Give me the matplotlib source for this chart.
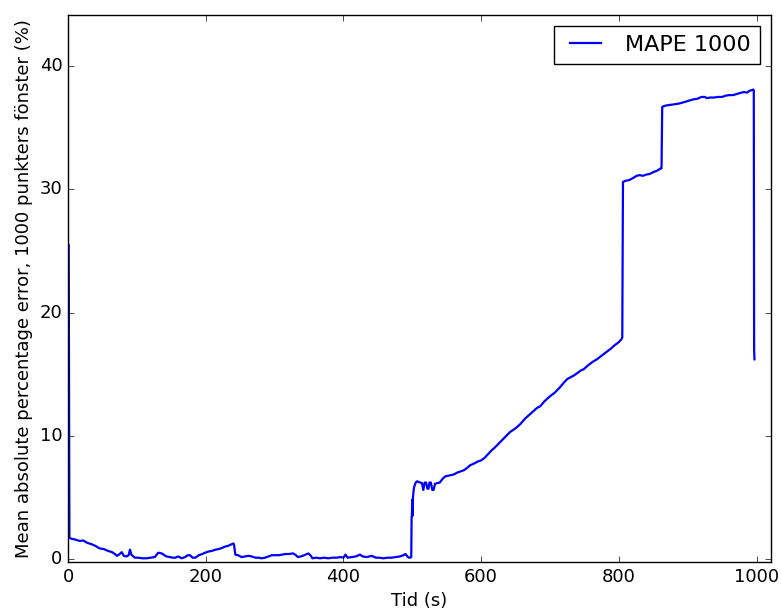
import matplotlib
matplotlib.use("Agg")
import matplotlib.pyplot as plt

plt.style.use("classic")
plt.rcParams["font.size"] = 13

# Rolling MAPE over a 1000-point window, sampled along time (s)
tid = [
    1, 2, 4, 8, 12, 17, 22, 28, 34, 40,
    46, 52, 58, 64, 68, 71, 74, 78, 81, 85,
    88, 90, 92, 95, 97, 102, 108, 114, 120, 126,
    131, 136, 140, 143, 148, 152, 156, 160, 165, 170,
    174, 177, 181, 185, 190, 195, 199, 204, 209, 214,
    219, 224, 228, 232, 236, 240, 241, 243, 247, 252,
    257, 262, 267, 272, 277, 281, 286, 291, 296, 301,
    306, 311, 316, 321, 327, 331, 334, 338, 343, 349,
    352, 355, 360, 366, 372, 378, 384, 390, 396, 400,
    403, 406, 412, 418, 424, 428, 434, 441, 447, 452,
    458, 464, 470, 476, 482, 487, 490, 493, 495, 497,
    498.5, 499, 499.5, 500, 500.5, 501, 502, 503, 505, 507,
    509, 511.5, 514, 516, 518, 520, 522, 523.5, 525, 527,
    529, 531, 533, 536, 540, 544, 548, 552, 556, 560,
    565, 570, 575, 580, 584, 590, 595, 600, 605, 610,
    615, 620, 628, 635, 642, 650, 657, 664, 670, 676,
    681, 686, 692, 700, 707, 714, 720, 725, 730, 735,
    740, 745, 749, 755, 762, 768, 775, 782, 788, 794,
    800, 804, 805, 806, 810, 815, 820, 826, 830, 835,
    840, 845, 850, 855, 858, 861, 862, 863, 868, 874,
    880, 886, 890, 896, 902, 908, 914, 920, 925, 928,
    932, 938, 944, 950, 955, 960, 966, 972, 978, 982,
    986, 990, 993, 995, 996, 996.5, 997,
]
mape_1000 = [
    25.5, 1.75, 1.65, 1.6, 1.55, 1.45, 1.5, 1.3, 1.2, 1.05,
    0.85, 0.8, 0.65, 0.55, 0.4, 0.25, 0.35, 0.55, 0.25, 0.2,
    0.3, 0.75, 0.35, 0.2, 0.1, 0.1, 0.05, 0.05, 0.1, 0.15,
    0.5, 0.45, 0.3, 0.2, 0.15, 0.1, 0.1, 0.2, 0.05, 0.15,
    0.3, 0.3, 0.1, 0.1, 0.3, 0.4, 0.5, 0.6, 0.65, 0.75,
    0.8, 0.9, 1.0, 1.05, 1.15, 1.25, 1.2, 0.35, 0.3, 0.15,
    0.2, 0.25, 0.2, 0.1, 0.1, 0.05, 0.1, 0.2, 0.3, 0.3,
    0.3, 0.35, 0.4, 0.4, 0.45, 0.3, 0.15, 0.2, 0.3, 0.45,
    0.3, 0.05, 0.1, 0.05, 0.1, 0.05, 0.1, 0.1, 0.15, 0.1,
    0.35, 0.1, 0.15, 0.2, 0.35, 0.2, 0.15, 0.25, 0.1, 0.1,
    0.05, 0.1, 0.1, 0.15, 0.2, 0.3, 0.4, 0.2, 0.1, 0.1,
    0.15, 3.3, 3.6, 4.8, 3.5, 5.0, 5.6, 5.9, 6.2, 6.3,
    6.25, 6.2, 6.15, 5.6, 6.2, 6.2, 5.7, 5.7, 6.2, 6.2,
    5.6, 5.6, 6.1, 6.15, 6.2, 6.5, 6.7, 6.75, 6.8, 6.85,
    7.0, 7.1, 7.2, 7.4, 7.6, 7.75, 7.9, 8.0, 8.2, 8.5,
    8.8, 9.05, 9.5, 9.9, 10.3, 10.6, 10.95, 11.4, 11.7, 12.0,
    12.25, 12.4, 12.8, 13.2, 13.5, 13.9, 14.3, 14.6, 14.75, 14.9,
    15.1, 15.3, 15.4, 15.7, 16.0, 16.2, 16.5, 16.8, 17.05, 17.35,
    17.6, 17.85, 18.0, 30.6, 30.7, 30.75, 30.9, 31.1, 31.15, 31.1,
    31.2, 31.25, 31.4, 31.5, 31.6, 31.7, 31.7, 36.7, 36.8, 36.85,
    36.9, 36.95, 37.0, 37.1, 37.2, 37.3, 37.35, 37.5, 37.5, 37.4,
    37.45, 37.45, 37.5, 37.5, 37.6, 37.65, 37.65, 37.75, 37.85, 37.9,
    37.85, 38.0, 38.05, 38.1, 38.05, 17.0, 16.2,
]

fig = plt.figure(figsize=(7.81, 6.13), dpi=100, facecolor="white")
ax = fig.add_axes([0.0871, 0.0832, 0.9001, 0.8923])

ax.plot(tid, mape_1000, color="b", linewidth=1.6, label="MAPE 1000")

ax.set_xlim(0, 1021)
ax.set_ylim(-0.25, 44.15)
ax.set_xticks([0, 200, 400, 600, 800, 1000])
ax.set_yticks([0, 10, 20, 30, 40])

ax.set_xlabel("Tid (s)")
ax.set_ylabel("Mean absolute percentage error, 1000 punkters fönster (%)")
ax.legend(loc="upper right", fontsize=16)

fig.savefig("out.png", dpi=100, facecolor="white")
